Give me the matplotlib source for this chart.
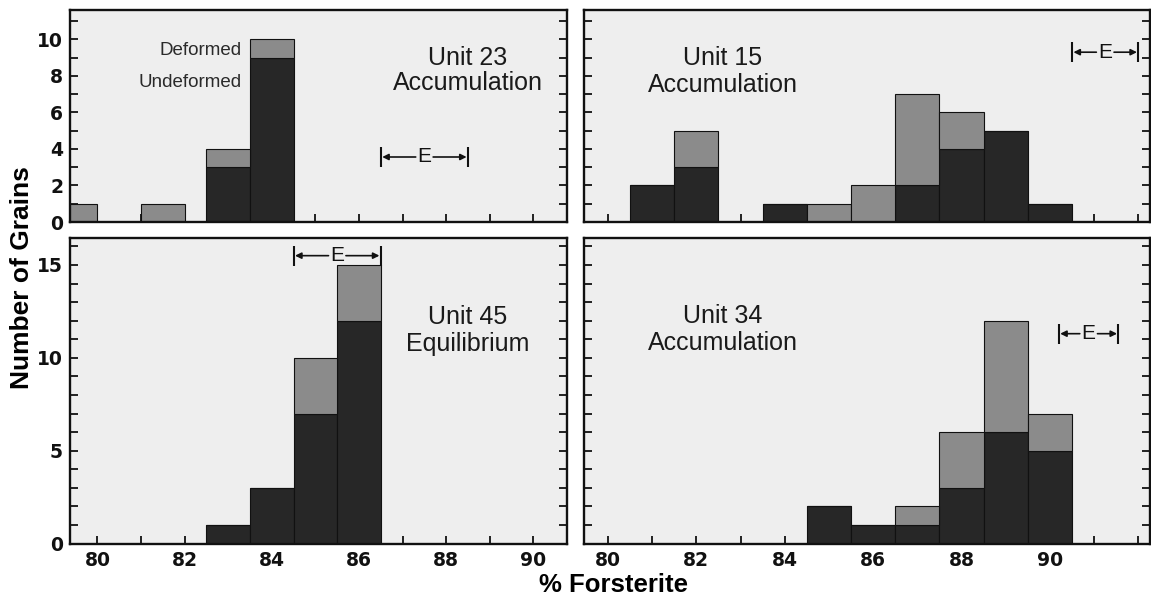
import matplotlib.pyplot as plt
from matplotlib.ticker import MultipleLocator

# --- data (bin centres in % Fo, grain counts) ---
u23_bins = [79.5, 81.5, 83, 84]
u23_undeformed = [0, 0, 3, 9]
u23_deformed = [1, 1, 1, 1]

u15_bins = [81, 82, 84, 85, 86, 87, 88, 89, 90]
u15_undeformed = [2, 3, 1, 0, 0, 2, 4, 5, 1]
u15_deformed = [0, 2, 0, 1, 2, 5, 2, 0, 0]

u45_bins = [83, 84, 85, 86]
u45_undeformed = [1, 3, 7, 12]
u45_deformed = [0, 0, 3, 3]

u34_bins = [85, 86, 87, 88, 89, 90]
u34_undeformed = [2, 1, 1, 3, 6, 5]
u34_deformed = [0, 0, 1, 3, 6, 2]

# equilibrium range "E" (x from, x to, y level)
u23_E = (86.5, 88.5, 3.56)
u15_E = (90.5, 92.0, 9.3)
u45_E = (84.5, 86.5, 15.5)
u34_E = (90.2, 91.55, 11.3)

DARK = '#272727'
GREY = '#8b8b8b'
BG = '#eeeeee'
INK = '#111111'

plt.rcParams['font.family'] = 'Liberation Sans'

fig = plt.figure(figsize=(11.51, 6.0), dpi=100)
ax_tl = fig.add_axes([0.0608, 0.630, 0.4318, 0.353])
ax_tr = fig.add_axes([0.5074, 0.630, 0.4916, 0.353])
ax_bl = fig.add_axes([0.0608, 0.094, 0.4318, 0.509])
ax_br = fig.add_axes([0.5074, 0.094, 0.4916, 0.509])


def draw_hist(ax, bins, und, dfm):
    ax.bar(bins, und, width=1.0, color=DARK, edgecolor=INK, linewidth=0.8, zorder=2)
    ax.bar(bins, dfm, width=1.0, bottom=und, color=GREY, edgecolor=INK,
           linewidth=0.8, zorder=2)


def draw_E(ax, e):
    x0, x1, y = e
    xm = (x0 + x1) / 2
    ax.text(xm, y, 'E', ha='center', va='center', fontsize=15, color=INK, zorder=4)
    for end in (x0, x1):
        start = xm + (0.2 if end > xm else -0.2)
        ax.annotate('', xy=(end, y), xytext=(start, y),
                    arrowprops=dict(arrowstyle='-|>', color=INK, lw=1.2,
                                    mutation_scale=9, shrinkA=0, shrinkB=1), zorder=4)
    ax.plot([x0, x1], [y, y], linestyle='none', marker='|', markersize=14,
            markeredgewidth=1.5, color=INK, zorder=4)


def style(ax, xlim, ylim, ymajor, xlabels):
    ax.set_facecolor(BG)
    ax.set_xlim(*xlim)
    ax.set_ylim(*ylim)
    ax.xaxis.set_major_locator(MultipleLocator(2))
    ax.xaxis.set_minor_locator(MultipleLocator(1))
    ax.yaxis.set_major_locator(MultipleLocator(ymajor))
    ax.yaxis.set_minor_locator(MultipleLocator(1))
    ax.tick_params(which='both', direction='in', length=6, width=1.3,
                   left=True, right=True, bottom=True, top=False, colors=INK, pad=5)
    ax.tick_params(axis='both', labelsize=13.5)
    if not xlabels:
        ax.tick_params(axis='x', labelbottom=False)
    for sp in ax.spines.values():
        sp.set_linewidth(1.7)
        sp.set_color(INK)


def bold_ticks(ax):
    for lab in ax.get_xticklabels() + ax.get_yticklabels():
        lab.set_fontfamily('DejaVu Sans')
        lab.set_fontweight('bold')


draw_hist(ax_tl, u23_bins, u23_undeformed, u23_deformed)
draw_hist(ax_tr, u15_bins, u15_undeformed, u15_deformed)
draw_hist(ax_bl, u45_bins, u45_undeformed, u45_deformed)
draw_hist(ax_br, u34_bins, u34_undeformed, u34_deformed)

style(ax_tl, (79.37, 90.77), (0, 11.6), 2, False)
style(ax_tr, (79.46, 92.26), (0, 11.6), 2, False)
style(ax_bl, (79.37, 90.77), (0, 16.44), 5, True)
style(ax_br, (79.46, 92.26), (0, 16.44), 5, True)
ax_tr.tick_params(axis='y', labelleft=False)
ax_br.tick_params(axis='y', labelleft=False)
ax_br.set_xticks([80, 82, 84, 86, 88, 90])
for a in (ax_tl, ax_tr, ax_bl, ax_br):
    bold_ticks(a)

draw_E(ax_tl, u23_E)
draw_E(ax_tr, u15_E)
draw_E(ax_bl, u45_E)
draw_E(ax_br, u34_E)

txt = dict(ha='center', va='center', color='#1a1a1a', fontsize=18)
ax_tl.text(88.5, 8.97, 'Unit 23', **txt)
ax_tl.text(88.5, 7.6, 'Accumulation', **txt)
ax_tl.text(83.3, 9.4, 'Deformed', fontsize=13.5, ha='right', va='center', color='#2a2a2a')
ax_tl.text(83.3, 7.65, 'Undeformed', fontsize=13.5, ha='right', va='center', color='#2a2a2a')

ax_tr.text(82.6, 8.97, 'Unit 15', **txt)
ax_tr.text(82.6, 7.5, 'Accumulation', **txt)

ax_bl.text(88.5, 12.2, 'Unit 45', **txt)
ax_bl.text(88.5, 10.75, 'Equilibrium', **txt)

ax_br.text(82.6, 12.25, 'Unit 34', **txt)
ax_br.text(82.6, 10.8, 'Accumulation', **txt)

fig.text(0.019, 0.5375, 'Number of Grains', rotation=90, ha='center', va='center',
         fontsize=19, fontweight='bold')
fig.text(0.533, 0.025, '% Forsterite', ha='center', va='center',
         fontsize=18.5, fontweight='bold')

fig.savefig('out.png', dpi=100, facecolor='white')
